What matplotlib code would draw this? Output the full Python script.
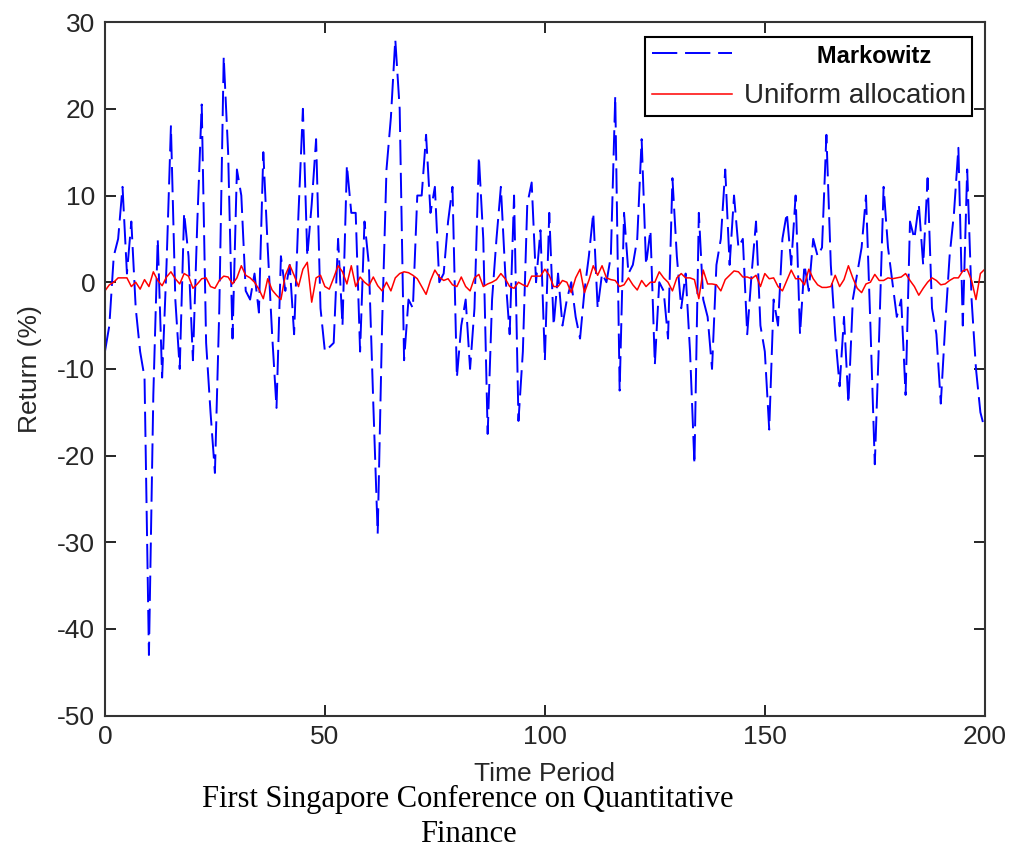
import matplotlib
matplotlib.use("Agg")
import matplotlib.pyplot as plt
import numpy as np

# Time axis
time_period = np.arange(0, 201)

# Markowitz portfolio return (%)
markowitz = [
    -8, -5, 3, 5, 11, 1, 7, -3, -8, -11,
    -43, -13, 5, -11, 2, 18, -2, -10, 8, 3,
    -9, 7, 20.5, -7, -15, -22, -3, 26, 15, -6.5,
    13, 10, -1, -2, 1, -3.5, 15, 4, -6, -14.5,
    3, -1, 2, -6, 8, 20, 3, 9, 16.5, -3,
    -8, -7.5, -7, 5, -5, 13.5, 8, 8, -8, 7,
    2, -14, -29, -5, 13, 19, 28, 20, -9, -2,
    -3, 10, 10, 17, 8, 11, 0, 1, 7, 11,
    -11, -5, -2, -10, -3, 14.5, 5, -17.5, -2, 5,
    11, 1, -6, 10, -16, -8, 9, 11.5, 0, 6,
    -9, 8, -5, 1, -5, -2, 0, -4, -6.5, -1,
    3, 8, -3, 1, 0, 3, 21.5, -12.5, 8, 1,
    2, 5, 16.5, 2, 6, -9.5, 0, -1, -6.5, 12,
    3, -3, 1, -8, -21, 8, -2, -4, -10, 2,
    5, 13, 2, 10, 4, 5, -6, 1, 7, -5,
    -8, -17, -2, -5, 5, 8, 2, 10, -6, 2,
    -1, 5, 3, 4, 17, 2, -6, -12, -4, -14,
    -2, 1, 4, 10, -5, -21, -6, 11, 4, 0,
    -4, -2, -13, 7, 5, 9, 2, 12, -3, -6,
    -14, -5, 3, 8, 15.5, -5, 13, -2, -10, -15,
    -17,
]

# Uniform allocation return (%)
uniform = [
    -1, -0.3, 0, 0.5, 0.5, 0.5, -0.5, 0, -0.8, 0.3,
    -0.5, 1.2, 0.2, -0.4, 0.6, 1.2, 0.4, -0.2, 1, 0.7,
    -0.7, -0.2, 0.4, 0.5, -0.5, -0.7, 0.2, 0.7, 0.6, -0.2,
    0.5, 1.9, 0.8, 0.5, 0, -0.8, -1.9, 0.4, -0.9, -1.5,
    -2, 0.8, 2, 0.8, -0.5, 1.5, 2.3, -2.3, 0.5, 0.8,
    -0.5, -0.8, 0.5, 1.9, 1.2, -0.2, 1.9, -0.5, 0.6, 0,
    -0.4, 0.6, -0.4, -1, 0, -1, 0.5, 1, 1.2, 1.1,
    0.8, 0.4, -0.5, -1.4, 0.2, 1.4, 0.6, 0.2, 0.4, -0.3,
    -0.5, 0.6, -0.5, -1, 0.5, 0.9, -0.5, -0.2, 0, 0.3,
    1, 0.4, -0.5, -0.7, 0, -0.3, -0.5, 0.7, 0.7, 0.7,
    1.5, 0.8, -0.5, -0.5, 0.2, 0, -1.2, 0.5, 1.5, -1.2,
    0.2, 1.9, 0.8, 1.9, 0.5, 0.3, 0.2, -0.5, -0.3, 0.5,
    -0.3, -0.9, 0.2, -0.5, 0, 0, 1.2, 0.5, 0, -1,
    0.5, 1, 0.5, 0.5, 0.3, -1.9, 1.4, -0.2, -0.2, -0.3,
    -1, 0.3, 0.8, 1.3, 1.2, 0.6, 0.6, 0.4, 0.8, -0.5,
    1, 0.4, 0.5, -0.5, -1, 0.2, 1.4, 0.4, 0.4, -0.3,
    1.5, 0.4, -0.3, -0.6, -0.6, -0.5, 0.8, -0.5, 0.3, 1.9,
    0.5, -0.7, -1.2, -0.2, 0, 0.9, 0.2, 0.2, 0.5, 0.4,
    0.5, 0.6, 1, 0.2, -0.5, -1.5, -0.7, 0, 0.5, 0.2,
    -0.3, -0.2, 0.2, 0.5, 0.5, 1.3, 1.5, 0.2, -2, 1,
    1.5,
]

x_ticks = [0, 50, 100, 150, 200]
y_ticks = [-50, -40, -30, -20, -10, 0, 10, 20, 30]

sans = ['Liberation Sans', 'DejaVu Sans']
serif = ['Liberation Serif', 'DejaVu Serif']

fig = plt.figure(figsize=(10.09, 8.51), dpi=100)
ax = fig.add_axes([0.104, 0.159, 0.872, 0.815])

ax.plot(time_period, markowitz, color='#0000ff', lw=1.4, dashes=(13, 4),
        label='           Markowitz')
ax.plot(time_period, uniform, color='#ff0000', lw=1.1, label='Uniform allocation')

ax.set_xlim(0, 200)
ax.set_ylim(-50, 30)
ax.set_xticks(x_ticks)
ax.set_yticks(y_ticks)
ax.set_xticklabels([str(v) for v in x_ticks], family=sans, fontsize=19, color='#262626')
ax.set_yticklabels([str(v) for v in y_ticks], family=sans, fontsize=19, color='#262626')
ax.tick_params(direction='in', top=True, right=True, length=8, width=1.2, pad=7)
for sp in ax.spines.values():
    sp.set_linewidth(1.5)
    sp.set_color('#333333')

ax.set_xlabel('Time Period', family=sans, fontsize=19, color='#262626', labelpad=9)
ax.set_ylabel('Return (%)', family=sans, fontsize=19, color='#262626', labelpad=11)

leg = ax.legend(loc='upper right', bbox_to_anchor=(0.986, 0.979), borderaxespad=0,
                fancybox=False, framealpha=1, edgecolor='black', handlelength=2.9,
                handletextpad=0.4, prop={'family': sans, 'size': 20},
                borderpad=0.25, labelspacing=0.55)
leg.get_frame().set_linewidth(1.5)
leg.get_texts()[0].set_fontweight('bold')
leg.get_texts()[0].set_fontsize(17)
leg.get_texts()[1].set_color('#262626')

fig.text(0.464, 0.061, 'First Singapore Conference on Quantitative',
         family=serif, fontsize=22, ha='center', va='center')
fig.text(0.464, 0.019, 'Finance',
         family=serif, fontsize=22, ha='center', va='center')

fig.savefig('out.png', dpi=100)
